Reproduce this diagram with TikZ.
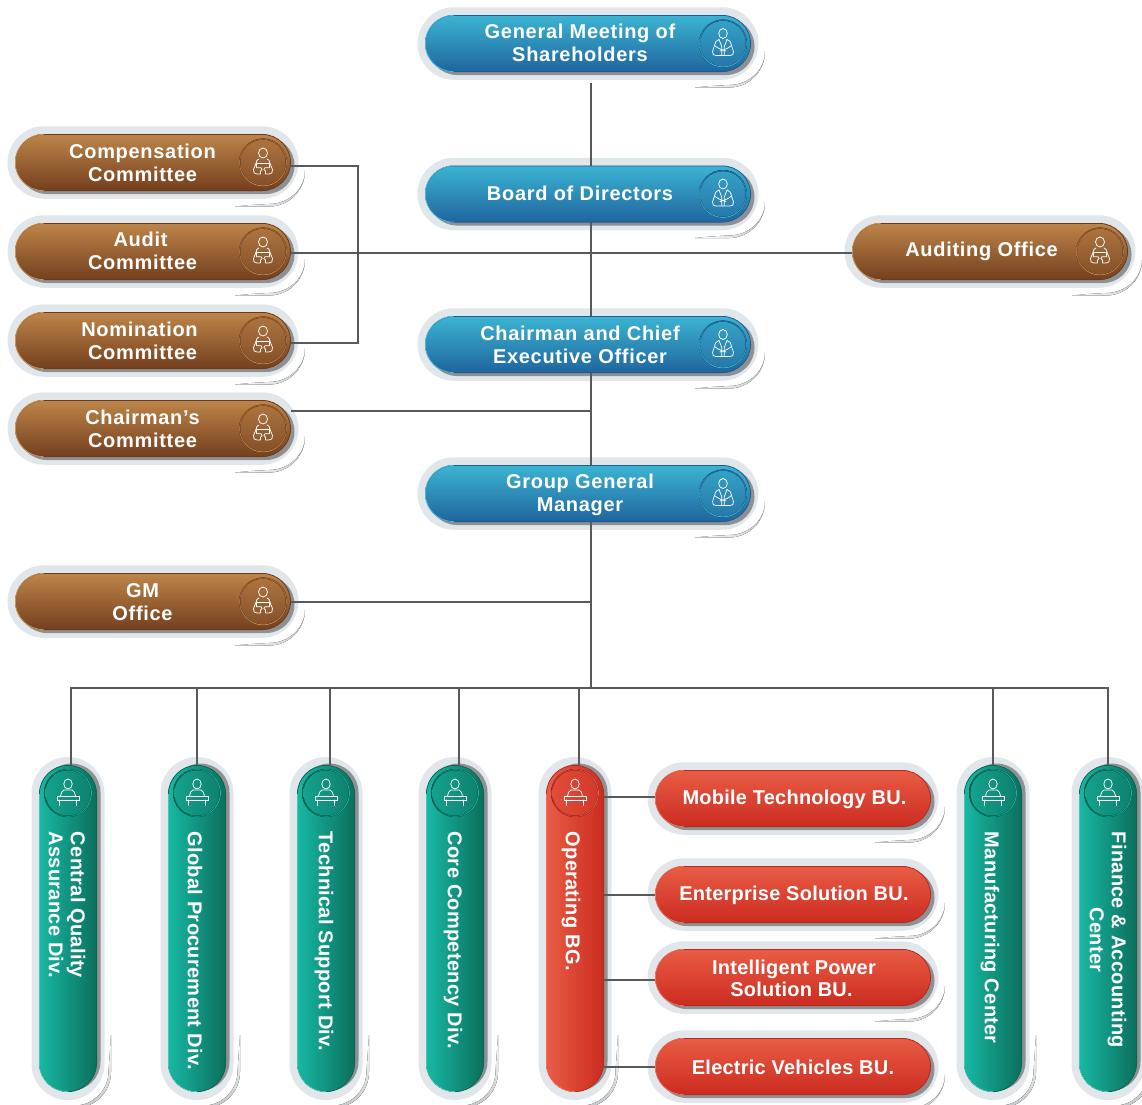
\documentclass[tikz,border=0pt]{standalone}
\usepackage{fontspec}
\setmainfont{Liberation Sans}
\newfontfamily\lsA[LetterSpace=3.5]{Liberation Sans}
\newfontfamily\lsB[LetterSpace=1.5]{Liberation Sans}
\newfontfamily\lsC[LetterSpace=1.2]{Liberation Sans}
\usetikzlibrary{calc}
\pgfdeclarelayer{halo}\pgfdeclarelayer{pill}
\pgfsetlayers{halo,main,pill}
\definecolor{haloc}{HTML}{E1E6EA}
\definecolor{linec}{HTML}{58595B}
\definecolor{shadc}{HTML}{8F9092}
\definecolor{swoc}{HTML}{C4C7CA}
\definecolor{blueT}{HTML}{3BB4D2}\definecolor{blueB}{HTML}{1F659E}\definecolor{blueE}{HTML}{1C5C96}\definecolor{blueL}{HTML}{45BCD6}\definecolor{blueR}{HTML}{1F6CA5}
\definecolor{brownT}{HTML}{BD8549}\definecolor{brownB}{HTML}{743F1E}\definecolor{brownE}{HTML}{6B3A1C}\definecolor{brownL}{HTML}{C8954F}\definecolor{brownR}{HTML}{9C5A2B}
\definecolor{redT}{HTML}{E95C45}\definecolor{redB}{HTML}{CB2C20}\definecolor{redE}{HTML}{B42A22}\definecolor{redL}{HTML}{F0705A}
\definecolor{greenL}{HTML}{17B8A4}\definecolor{greenR}{HTML}{0B6F5C}\definecolor{greenE}{HTML}{0A6553}
\tikzset{
 base/.style={rectangle,inner sep=0pt,outer sep=0pt},
 halobox/.style={base,fill=haloc},
 shadowbox/.style={base,fill=shadc},
 conn/.style={draw=linec,line width=1.8pt},
 ic/.style={draw=white,line width=.75pt,line join=round,line cap=round,fill=none},
 lab/.style={text=white,font=\bfseries\lsA\fontsize{20}{23}\selectfont,align=center,inner sep=0pt},
 redlab/.style={text=white,font=\bfseries\lsC\fontsize{20}{22.5}\selectfont,align=center,inner sep=0pt},
 bluelab/.style={lab},brownlab/.style={lab},
 vlab/.style={text=white,font=\bfseries\lsB\fontsize{20}{22}\selectfont,align=center,inner sep=0pt,rotate=-90,anchor=west},
 blue body/.style={top color=blueT,bottom color=blueB,draw=blueE,line width=.8pt},
 brown body/.style={top color=brownT,bottom color=brownB,draw=brownE,line width=.8pt},
 red body/.style={top color=redT,bottom color=redB,draw=redE,line width=.8pt},
 green body/.style={left color=greenL,right color=greenR,draw=greenE,line width=.8pt},
 redv body/.style={left color=redT,right color=redB,draw=redE,line width=.8pt},
 blue ring/.style={top color=blueR,bottom color=blueT},
 brown ring/.style={top color=brownR,bottom color=brownT},
 green ring/.style={left color=greenE,right color=greenL},
 redv ring/.style={left color=redB,right color=redT},
 blue disc/.style={top color=blueT!75!blueB,bottom color=blueT!25!blueB},
 brown disc/.style={top color=brownT!75!brownB,bottom color=brownT!25!brownB},
 green disc/.style={left color=greenL!70!greenR,right color=greenL!25!greenR},
 redv disc/.style={left color=redT!70!redB,right color=redT!25!redB},
 blue edge/.style={draw=blueL},
 brown edge/.style={draw=brownL},
 red edge/.style={draw=redL},
 green edge/.style={draw=greenL!80!white},
 redv edge/.style={draw=redL},
 mgr icon/.pic={
  \draw[ic] (0,-10) ellipse[x radius=4.3,y radius=5];
  \draw[ic] (-4,-4) .. controls (-7,-3) and (-7.5,-2) .. (-8.5,2) -- (-10.5,8) .. controls (-11,11) and (-9,12) .. (-7,12) -- (7,12) .. controls (9,12) and (11,11) .. (10.5,8) -- (8.5,2) .. controls (7.5,-2) and (7,-3) .. (4,-4);
  \draw[ic] (-4,-4) -- (-1.3,3) -- (-1.3,12) (4,-4) -- (1.3,3) -- (1.3,12);
  \draw[ic] (-8.5,2) .. controls (-6,4) and (-3,6) .. (3,7.5) (8.5,2) .. controls (6,4) and (3,6) .. (-3,7.5);
 },
 tab icon/.pic={
  \draw[ic] (0,-9.5) ellipse[x radius=4.5,y radius=5];
  \draw[ic] (-4,-3.5) .. controls (-6,-3) and (-6.5,-2) .. (-7,1) (4,-3.5) .. controls (6,-3) and (6.5,-2) .. (7,1);
  \draw[ic] (-6.5,5) -- (-6.5,.8) -- (6.5,.8) -- (6.5,5);
  \draw[ic] (-7,1) -- (-9.5,7) .. controls (-10,10) and (-8.5,11.5) .. (-6,11.5) -- (-2.5,11.5) -- (-2.5,8.5) -- (-.8,7) -- (-2,5.2) -- (-6.5,5.2);
  \draw[ic] (7,1) -- (9.5,7) .. controls (10,10) and (8.5,11.5) .. (6,11.5) -- (2.5,11.5) -- (2.5,8.5) -- (.8,7) -- (2,5.2) -- (6.5,5.2);
 },
 desk icon/.pic={
  \draw[ic] (0,-9) ellipse[x radius=4.2,y radius=5];
  \draw[ic] (-7.5,3) .. controls (-7,0) and (-6,-2.5) .. (-4,-3) -- (4,-3) .. controls (6,-2.5) and (7,0) .. (7.5,3);
  \draw[ic] (-11,3.3) rectangle (11,7);
  \draw[ic] (-8.5,7) -- (-8.5,12.5) (8.5,7) -- (8.5,12.5);
 }
}
% name cx cy w family icon(or empty) textpos text
\newcommand\hpill[8]{%
 \begin{pgfonlayer}{halo}
  \node[halobox,rounded corners=36.4,minimum width={#4+15},minimum height=72.5] at (#2,#3) {};
  \fill[left color=white,middle color=swoc,right color=swoc]
   ({#2+#4/2+14},{#3+8}) arc[start angle=0,end angle=90,radius=36]
   -- ({#2+#4/2+14-70},{#3+44})
   .. controls ({#2+#4/2+14-55},{#3+42.5}) .. ({#2+#4/2+14-36},{#3+41.5})
   .. controls ({#2+#4/2+14-16},{#3+41.5}) and ({#2+#4/2+14},{#3+26.5}) .. cycle;
  \node[shadowbox,rounded corners=28.4,minimum width=#4,minimum height=57] at ({#2+3.5},{#3+3}) {};
 \end{pgfonlayer}
 \begin{pgfonlayer}{pill}
  \node[base,#5 body,rounded corners=28.4,minimum width={#4-.8},minimum height=56.2] (#1) at (#2,#3) {};
  \draw[#5 edge,line width=.8pt] ({#2-#4/2+28.5},{#3-28.1}) arc[start angle=-90,end angle=-270,radius=28.1];
  \ifx&#6&\else
   \fill[#5 ring] ({#2+#4/2-28},#3) circle[radius=24];
   \fill[#5 disc] ({#2+#4/2-28},#3) circle[radius=22.7];
   \pic at ({#2+#4/2-28},#3) {#6};
  \fi
  \node[#5lab] (#1-text) at (#7) {#8};
 \end{pgfonlayer}
}
% name cx family text-x text
\newcommand\vpill[5]{%
 \begin{pgfonlayer}{halo}
  \node[halobox,rounded corners=36.4,minimum width=73,minimum height=343] at (#2,928.5) {};
  \fill[top color=white,middle color=swoc,bottom color=swoc]
   ({#2+43},1035) -- ({#2+43},1072) arc[start angle=0,end angle=90,radius=36]
   -- ({#2+7},1105.5) .. controls ({#2+25},1105.5) and ({#2+40.5},1090) .. ({#2+40.5},1072) -- cycle;
  \node[shadowbox,rounded corners=28.9,minimum width=58,minimum height=327] at ({#2+3.5},{928.5-1.5}) {};
 \end{pgfonlayer}
 \begin{pgfonlayer}{pill}
  \node[base,#3 body,rounded corners=28.6,minimum width=57.2,minimum height=326.2] (#1) at (#2,928.5) {};
  \draw[#3 edge,line width=.8pt] ({#2-28.6},794) -- ({#2-28.6},1063) arc[start angle=180,end angle=90,radius=28.6];
  \fill[#3 ring] (#2,793) circle[radius=24];
  \fill[#3 disc] (#2,793) circle[radius=22.7];
  \pic at (#2,793) {desk icon};
  \node[vlab] (#1-text) at (#4,831.5) {#5};
 \end{pgfonlayer}
}
\begin{document}
\begin{tikzpicture}[x=1pt,y=-1pt]
\useasboundingbox (0,0) rectangle (1142,1104);
\hpill{gms}{588}{43.5}{326}{blue}{mgr icon}{580,42.7}{General Meeting of\\Shareholders}
\hpill{bod}{588}{194}{326}{blue}{mgr icon}{580,193}{Board of Directors}
\hpill{ceo}{588}{344.5}{326}{blue}{mgr icon}{580,344.5}{Chairman and Chief\\Executive Officer}
\hpill{ggm}{588}{493.5}{326}{blue}{mgr icon}{580,494.5}{Group General\\Manager}
\hpill{comp}{153}{162.5}{276}{brown}{tab icon}{142.5,162.5}{Compensation\\Committee}
\hpill{audit}{153}{251.5}{276}{brown}{tab icon}{142.5,250.5}{Audit\hspace*{4pt}\\Committee}
\hpill{nomin}{153}{340.5}{276}{brown}{tab icon}{142.5,340.5}{Nomination\hspace*{6pt}\\Committee}
\hpill{chair}{153}{428.5}{276}{brown}{tab icon}{142.5,428.5}{Chairman’s\\Committee}
\hpill{gmo}{153}{601.5}{276}{brown}{tab icon}{142.5,602.5}{GM\\Office}
\hpill{aud}{990}{251.5}{276}{brown}{tab icon}{981.5,251.5}{Auditing Office}
\hpill{mob}{793}{798.5}{276}{red}{}{794.5,799.5}{Mobile Technology BU.}
\hpill{ent}{793}{894.5}{276}{red}{}{794,895.5}{Enterprise Solution BU.}
\hpill{ipw}{793}{977.5}{276}{red}{}{794,978.5}{Intelligent Power\\Solution BU.\hspace*{5pt}}
\hpill{evb}{793}{1066.5}{276}{red}{}{793,1067.5}{Electric Vehicles BU.}
\vpill{cqa}{68}{green}{67}{Central Quality\\Assurance Div.}
\vpill{gpd}{197}{green}{195}{Global Procurement Div.}
\vpill{tsd}{326}{green}{324}{Technical Support Div.}
\vpill{ccd}{455}{green}{453}{Core Competency Div.}
\vpill{obg}{575}{redv}{571}{Operating BG.}
\vpill{mfc}{993}{green}{990}{Manufacturing Center}
\vpill{fac}{1108}{green}{1108}{Finance \& Accounting\\Center}
% connectors
\coordinate (ttop) at (591,83);
\coordinate (bus) at (591,688);
\coordinate (busL) at (71,688);
\coordinate (busR) at (1108,688);
\coordinate (cj) at ($(chair.east)+(0,-17.5)$);
\coordinate (c1) at ($(comp.east)+(0,3.5)$);
\coordinate (c3) at ($(nomin.east)+(0,2.5)$);
\coordinate (g1) at ($(gmo.east)+(0,.5)$);
\coordinate (a1) at ($(audit.east)+(0,1.5)$);
\coordinate (a2) at ($(aud.west)+(0,1.5)$);
\draw[conn] (ttop) -- (bus);
\draw[conn] (c1) -- ++(67,0) |- (c3);
\draw[conn] (a1) -- (a2);
\draw[conn] (cj) -- (ttop |- cj);
\draw[conn] (g1) -- (ttop |- g1);
\draw[conn,line cap=rect] (busL) -- (busR);
\draw[conn] (busL) -- ([xshift=3pt]cqa.north);
\draw[conn] ([xshift=0pt]gpd.north |- busL) -- ([xshift=0pt]gpd.north);
\draw[conn] ([xshift=4pt]tsd.north |- busL) -- ([xshift=4pt]tsd.north);
\draw[conn] ([xshift=4pt]ccd.north |- busL) -- ([xshift=4pt]ccd.north);
\draw[conn] ([xshift=4pt]obg.north |- busL) -- ([xshift=4pt]obg.north);
\draw[conn] (mfc.north |- busL) -- (mfc.north);
\draw[conn] (busR) -- (fac.north);
\coordinate (m1) at ($(mob.west)+(0,-1.5)$);
\coordinate (m2) at ($(ent.west)+(0,.5)$);
\coordinate (m3) at ($(ipw.west)+(0,2.5)$);
\coordinate (m4) at ($(evb.west)+(0,.5)$);
\draw[conn] (obg.east |- m1) -- (m1);
\draw[conn] (obg.east |- m2) -- (m2);
\draw[conn] (obg.east |- m3) -- (m3);
\draw[conn] (obg.east |- m4) -- (m4);
\end{tikzpicture}
\end{document}
